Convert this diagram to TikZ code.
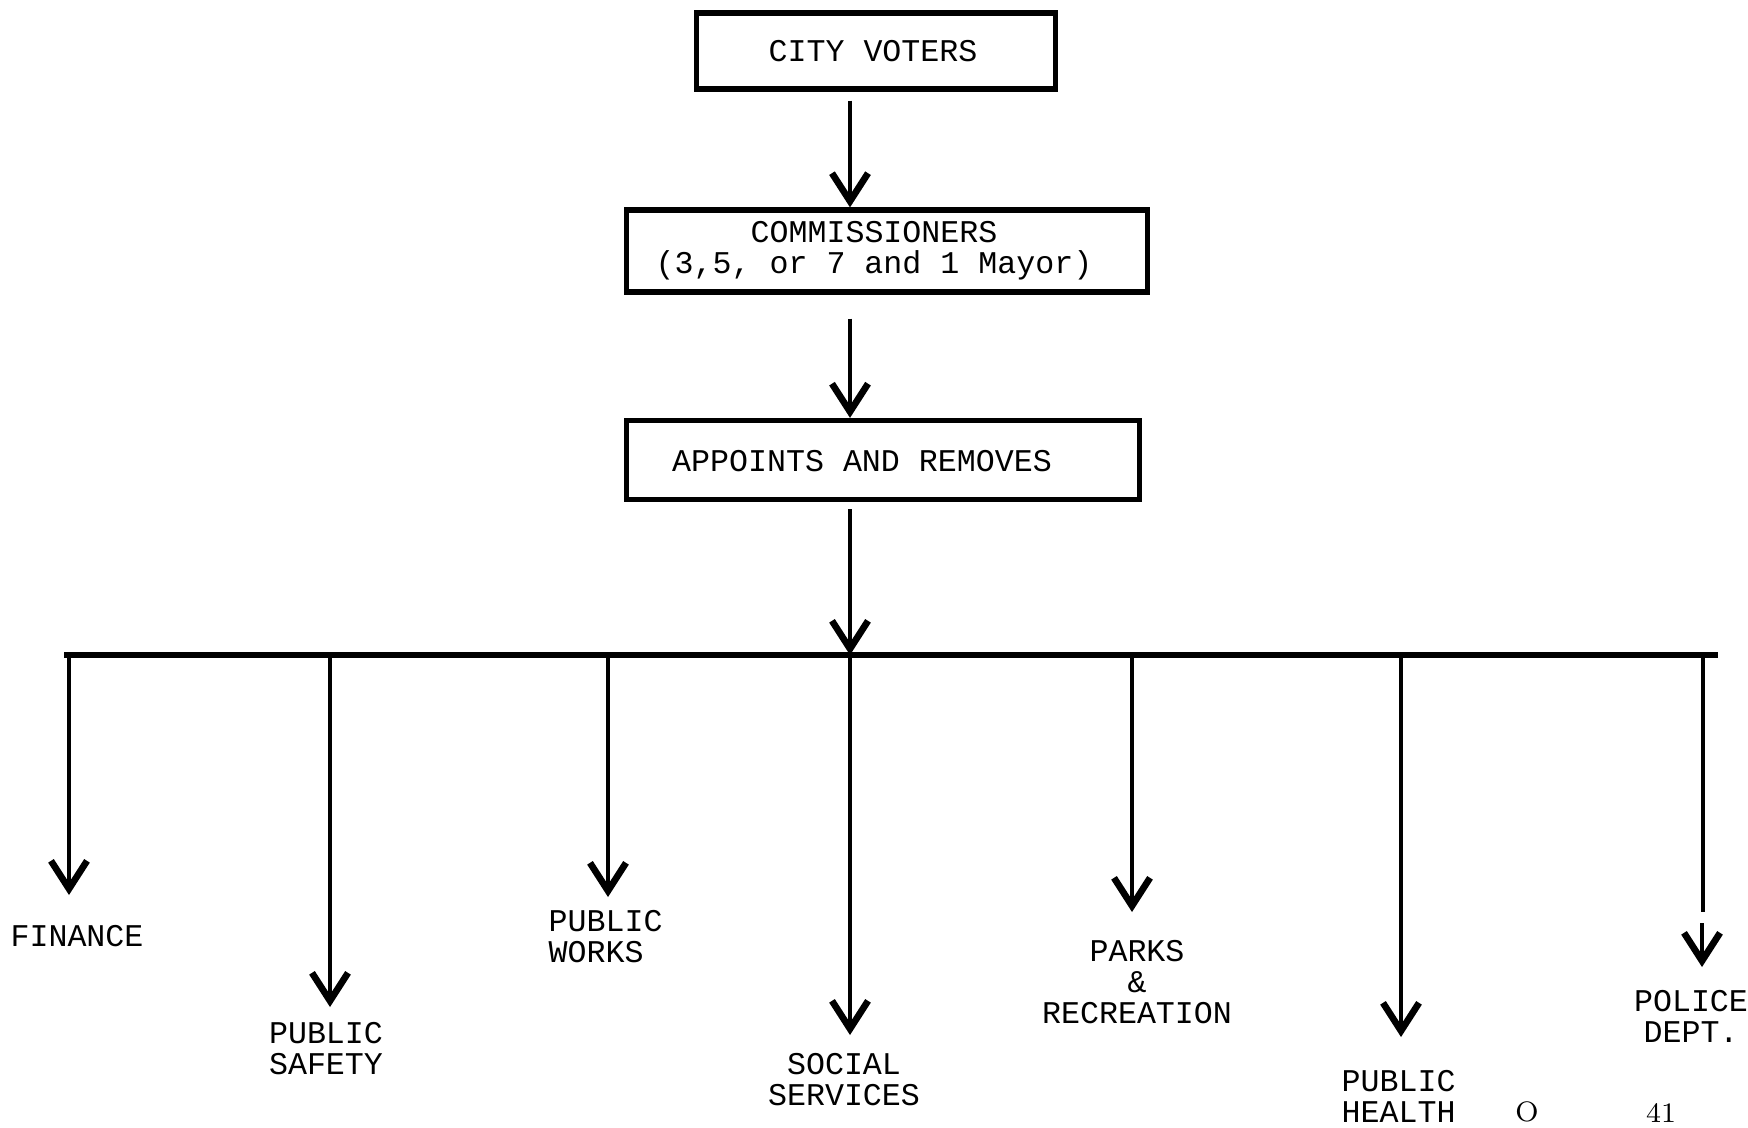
\documentclass[tikz,border=0pt]{standalone}
\usepackage{fontspec}
\setmonofont{Liberation Mono}
\usetikzlibrary{arrows.meta,calc}
\newcommand\chartfont{\ttfamily\fontsize{9}{8.8}\selectfont}
\begin{document}
\begin{tikzpicture}[x=0.1mm,y=-0.1mm,
  box/.style={draw, line width=1.5pt, inner sep=0pt},
  arr/.style={line width=1.4pt, -{Straight Barb[length=2.8mm,width=3.6mm,line width=1.9pt]}},
  bar/.style={line width=1.8pt, line cap=rect},
  shaft/.style={line width=1.4pt},
  lbl/.style={font=\chartfont, inner sep=0pt, align=center},
  foot/.style={font=\fontsize{8}{8}\selectfont, inner sep=0pt}]
\useasboundingbox (0,0) rectangle (1748,1127);

% chain of authority
\node[box, minimum width=35.9mm, minimum height=7.6mm] (voters) at (876,51) {};
\node[lbl] (votersT) at (873,51) {CITY VOTERS};
\node[box, minimum width=52.1mm, minimum height=8.2mm] (comm) at (887,251) {};
\node[lbl] (commT) at (874,251) {COMMISSIONERS\\(3,5, or 7 and 1 Mayor)};
\node[box, minimum width=51.3mm, minimum height=7.9mm] (appt) at (883,460) {};
\node[lbl] (apptT) at (862,461) {APPOINTS AND REMOVES};

\coordinate (sp) at (850,0);
\coordinate (barL) at (67,655);
\coordinate (barR) at (1715,655);

\draw[arr] ($(voters.south -| sp)+(0,9)$) -- (comm.north -| sp);
\draw[arr] ($(comm.south -| sp)+(0,24)$) -- (appt.north -| sp);
\draw[bar] (barL) -- (barR);
\draw[arr] ($(appt.south -| sp)+(0,7)$) -- (sp |- barL);

% arrow tips of the departments
\coordinate (tfin) at (69,895);
\coordinate (tsaf) at (330,1007);
\coordinate (twrk) at (608,897);
\coordinate (tsoc) at (850,1035);
\coordinate (tprk) at (1132,912);
\coordinate (thlt) at (1401,1037);
\coordinate (tpol) at (1702,967);
\coordinate (ppol) at (1703,912);
\coordinate (qpol) at (1702,923);

\draw[arr] (tfin |- barL) -- (tfin);
\draw[arr] (tsaf |- barL) -- (tsaf);
\draw[arr] (twrk |- barL) -- (twrk);
\draw[arr] (tsoc |- barL) -- (tsoc);
\draw[arr] (tprk |- barL) -- (tprk);
\draw[arr] (thlt |- barL) -- (thlt);
\draw[shaft] (ppol |- barL) -- (ppol);
\draw[arr] (qpol) -- (tpol);

% departments
\node[lbl] (fin) at (77,936) {FINANCE};
\node[lbl] (saf) at (326,1049) {PUBLIC\\SAFETY};
\node[lbl, align=left, anchor=west] (wrk) at (548,937) {PUBLIC\\WORKS};
\node[lbl] (soc) at (844,1080) {SOCIAL\\SERVICES};
\node[lbl] (prk) at (1137,982) {PARKS\\\&\\RECREATION};
\node[lbl, align=left, anchor=west] (hlt) at (1341,1096) {PUBLIC\\HEALTH};
\node[lbl] (pol) at (1691,1016) {POLICE\\DEPT.};

% page marks
\node[foot] (mk) at (1527,1112) {O};
\node[foot] (pg) at (1661,1113) {41};
\end{tikzpicture}
\end{document}
